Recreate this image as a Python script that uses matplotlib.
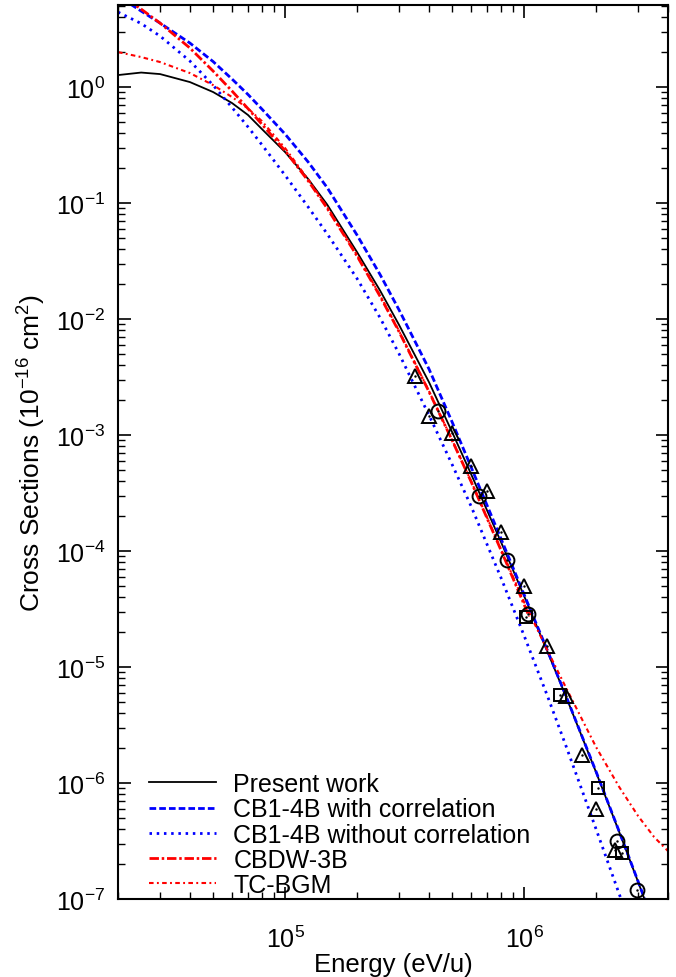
import numpy as np
import matplotlib
matplotlib.use('Agg')
import matplotlib.pyplot as plt

plt.rcParams['font.family'] = ['Liberation Sans', 'DejaVu Sans']
plt.rcParams['mathtext.default'] = 'regular'
plt.rcParams['axes.unicode_minus'] = False

E = [2e4, 2.5e4, 3e4, 4e4, 5e4, 6e4, 7e4, 8e4, 1e5, 1.25e5, 1.5e5, 2e5, 2.5e5,
     3e5, 4e5, 5e5, 6e5, 8e5, 1e6, 1.25e6, 1.5e6, 2e6, 2.5e6, 3e6, 3.5e6]

present = [1.269, 1.334, 1.294, 1.104, 0.906, 0.728, 0.574, 0.4345, 0.2753, 0.161,
           0.0971, 0.0378, 0.01754, 8.88e-3, 2.86e-3, 1.06e-3, 4.61e-4, 1.20e-4,
           4.10e-5, 1.37e-5, 5.51e-6, 1.24e-6, 3.78e-7, 1.40e-7, 5.97e-8]

cb_corr = [6.09, 4.52, 3.56, 2.395, 1.659, 1.172, 0.862, 0.646, 0.3934, 0.2256,
           0.1360, 0.0530, 0.02409, 0.01196, 3.71e-3, 1.294e-3, 5.30e-4, 1.282e-4,
           4.22e-5, 1.401e-5, 5.57e-6, 1.256e-6, 3.82e-7, 1.416e-7, 6.03e-8]

E_nocorr = [2e4, 2.5e4, 3e4, 4e4, 5e4, 6e4, 7e4, 8e4, 1e5, 1.25e5, 1.5e5, 2e5,
            2.5e5, 3e5, 4e5, 5e5, 6e5, 8e5, 1e6, 1.25e6, 1.5e6, 2e6, 2.5e6, 2.7e6]
cb_nocorr = [4.43, 3.53, 2.753, 1.675, 1.038, 0.667, 0.4529, 0.3181, 0.1737, 0.0923,
             0.0543, 0.02234, 0.01022, 5.01e-3, 1.484e-3, 5.57e-4, 2.438e-4, 5.90e-5,
             1.865e-5, 5.68e-6, 2.064e-6, 4.01e-7, 1.104e-7, 7.14e-8]

E_cbdw = [2e4, 2.5e4, 3e4, 4e4, 5e4, 6e4, 7e4, 8e4, 1e5, 1.25e5, 1.5e5, 2e5, 2.5e5,
          3e5, 4e5, 5e5, 6e5, 8e5, 1e6, 1.05e6]
cbdw = [6.46, 4.70, 3.56, 2.169, 1.374, 0.924, 0.651, 0.4778, 0.2829, 0.1553,
        0.0902, 0.0350, 0.01563, 7.76e-3, 2.366e-3, 9.00e-4, 3.97e-4, 1.020e-4,
        3.46e-5, 2.72e-5]

E_tc = [2e4, 2.5e4, 3e4, 4e4, 5e4, 6e4, 7e4, 8e4, 1e5, 1.25e5, 1.5e5, 2e5, 2.5e5,
        3e5, 4e5, 5e5, 6e5, 8e5, 1e6, 1.25e6, 1.5e6, 2e6, 2.5e6, 3e6, 3.5e6, 4e6]
tcbgm = [2.003, 1.814, 1.643, 1.320, 1.040, 0.820, 0.653, 0.509, 0.2979, 0.1594,
         0.0923, 0.0356, 0.01594, 7.88e-3, 2.394e-3, 9.05e-4, 4.01e-4, 1.04e-4,
         3.63e-5, 1.401e-5, 6.59e-6, 2.043e-6, 9.24e-7, 5.19e-7, 3.42e-7, 2.59e-7]

# experimental points
E_tri = [3.5e5, 4e5, 5e5, 6e5, 7e5, 8e5, 1e6, 1.25e6, 1.5e6, 1.75e6, 2e6, 2.4e6]
s_tri = [3.23e-3, 1.46e-3, 1.04e-3, 5.40e-4, 3.29e-4, 1.46e-4, 4.99e-5, 1.52e-5,
         5.62e-6, 1.74e-6, 5.97e-7, 2.62e-7]
E_circ = [4.35e5, 6.45e5, 8.45e5, 1.04e6, 2.45e6, 2.97e6]
s_circ = [1.61e-3, 2.98e-4, 8.36e-5, 2.86e-5, 3.16e-7, 1.2e-7]
E_sq = [1.02e6, 1.42e6, 2.04e6, 2.56e6]
s_sq = [2.70e-5, 5.74e-6, 9.1e-7, 2.5e-7]

fig = plt.figure(figsize=(6.76, 9.78), dpi=100)
ax = fig.add_axes([118/676, 1-900/978, 550/676, 894/978])

ax.plot(E, present, color='black', lw=1.3, label='Present work')
ax.plot(E, cb_corr, color='#0000ff', lw=2.0, dashes=(2.4, 1.1),
        label='CB1-4B with correlation')
ax.plot(E_nocorr, cb_nocorr, color='#0000ff', lw=2.0, dashes=(0.9, 1.7),
        label='CB1-4B without correlation')
ax.plot(E_cbdw, cbdw, color='#ff0000', lw=2.0, dashes=(3.4, 1.0, 0.9, 1.0),
        label='CBDW-3B')
ax.plot(E_tc, tcbgm, color='#ff0000', lw=1.5, dashes=(2.2, 1.6, 0.9, 1.6),
        label='TC-BGM')

mk = dict(ls='none', mfc='none', mec='black', mew=1.4, ms=10)
ax.plot(E_tri, s_tri, marker='^', **mk)
ax.plot(E_circ, s_circ, marker='o', **mk)
ax.plot(E_sq, s_sq, marker='s', **dict(mk, ms=9))
for xs, ys in [(E_tri, s_tri), (E_circ, s_circ), (E_sq, s_sq)]:
    ax.plot(xs, ys, ls='none', marker='.', ms=1.5, color='black')

ax.set_xscale('log')
ax.set_yscale('log')
ax.set_xlim(2e4, 4e6)
ax.set_ylim(1e-7, 5.1)

ax.tick_params(which='both', direction='in', top=True, right=True, labelsize=18)
ax.tick_params(which='major', length=9, width=1.2)
ax.tick_params(axis='y', which='major', pad=9)
ax.tick_params(axis='x', which='major', pad=19)
ax.tick_params(which='minor', length=5, width=1.0)
for sp in ax.spines.values():
    sp.set_linewidth(1.5)

ax.set_xlabel('Energy (eV/u)', fontsize=18.5, labelpad=0)
ax.set_ylabel('Cross Sections (10$^{-16}$ cm$^2$)', fontsize=19, labelpad=6)

ax.legend(loc='lower left', bbox_to_anchor=(0.056, 0.002), frameon=False,
          fontsize=18, handlelength=2.7, handletextpad=0.68, labelspacing=0.05,
          borderaxespad=0, borderpad=0)

fig.savefig('out.png', dpi=100)
